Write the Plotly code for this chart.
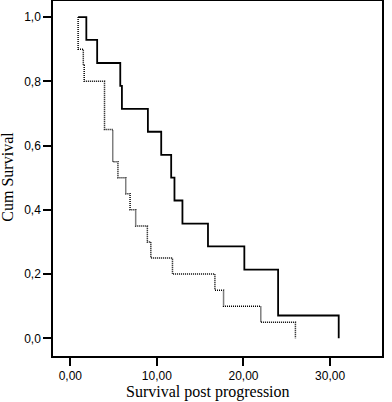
import plotly.graph_objects as go

# Group 1 (solid) Kaplan-Meier steps
t_solid = [0.9, 1.85, 3.1, 5.77, 5.96, 8.96, 10.5, 11.65, 12.03, 12.95, 15.9, 20.1, 24.0, 31.0]
s_solid = [1.0, 0.929, 0.857, 0.786, 0.714, 0.643, 0.571, 0.5, 0.429, 0.357, 0.286, 0.214, 0.071, 0.0]

# Group 2 (dotted) Kaplan-Meier steps
t_dot = [0.9, 0.9, 1.5, 1.6, 3.95, 4.9, 5.5, 6.4, 6.9, 7.55, 8.9, 9.3, 11.8, 16.7, 17.7, 22.0, 26.0]
s_dot = [1.0, 0.9, 0.85, 0.8, 0.65, 0.55, 0.5, 0.45, 0.4, 0.35, 0.3, 0.25, 0.2, 0.15, 0.1, 0.05, 0.0]

x_tickvals = [0, 10, 20, 30]
x_ticktext = ["0,00", "10,00", "20,00", "30,00"]
y_tickvals = [0.0, 0.2, 0.4, 0.6, 0.8, 1.0]
y_ticktext = ["0,0", "0,2", "0,4", "0,6", "0,8", "1,0"]
x_title = "Survival post progression"
y_title = "Cum Survival"

fig = go.Figure()
fig.add_trace(go.Scatter(x=t_solid, y=s_solid, mode="lines", line_shape="hv",
                         line=dict(color="black", width=1.8), showlegend=False))
fig.add_trace(go.Scatter(x=t_dot, y=s_dot, mode="lines", line_shape="hv",
                         line=dict(color="black", width=1.5, dash="1px,1px"), showlegend=False))

tick_font = dict(family="Liberation Sans, Arial", size=12, color="black")
title_font = dict(family="Liberation Serif, Times New Roman", size=16, color="black")

fig.update_layout(
    width=392, height=402,
    margin=dict(l=53, r=10, t=1, b=46, autoexpand=False),
    paper_bgcolor="white", plot_bgcolor="white",
    xaxis=dict(range=[-2, 36], tickvals=x_tickvals, ticktext=x_ticktext,
               ticks="outside", ticklen=8, tickwidth=1.5, tickcolor="black",
               showline=True, mirror=True, linecolor="black", linewidth=1.5,
               showgrid=False, zeroline=False, tickfont=tick_font, automargin=False),
    yaxis=dict(range=[-0.055, 1.05], tickvals=y_tickvals, ticktext=y_ticktext,
               ticks="outside", ticklen=8, tickwidth=1.5, tickcolor="black",
               showline=True, mirror=True, linecolor="black", linewidth=1.5,
               showgrid=False, zeroline=False, tickfont=tick_font, automargin=False),
    annotations=[
        dict(text=x_title, xref="paper", yref="paper", x=0.47, y=-0.102,
             xanchor="center", yanchor="middle", showarrow=False, font=title_font),
        dict(text=y_title, xref="paper", yref="paper", x=-0.137, y=0.505,
             xanchor="center", yanchor="middle", textangle=-90, showarrow=False, font=title_font),
    ],
)

fig.write_html("out.html", config={"displayModeBar": False},
               post_script="document.body.style.margin='0';document.body.style.overflow='hidden';")
